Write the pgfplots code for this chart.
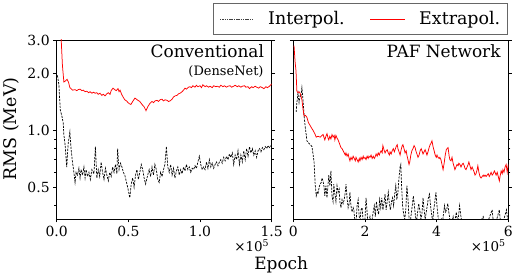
\documentclass[border=0pt]{standalone}
\usepackage{fontspec}
\setmainfont{DejaVu Serif}
\usepackage{pgfplots}
\pgfplotsset{compat=1.18}

\pgfplotstableread{
x y
0.025 3.8
0.04 2.2
0.05 1.80
0.06 1.82
0.072 1.86
0.082 1.80
0.092 1.68
0.10 1.66
0.11 1.63
0.128 1.64
0.14 1.62
0.15 1.64
0.163 1.65
0.175 1.62
0.185 1.63
0.198 1.60
0.21 1.61
0.223 1.58
0.233 1.60
0.245 1.57
0.257 1.59
0.268 1.57
0.28 1.58
0.29 1.55
0.302 1.57
0.315 1.53
0.325 1.55
0.337 1.52
0.35 1.56
0.36 1.58
0.372 1.55
0.38 1.62
0.393 1.67
0.405 1.64
0.415 1.62
0.428 1.66
0.435 1.60
0.442 1.63
0.453 1.55
0.463 1.50
0.475 1.45
0.487 1.43
0.498 1.40
0.508 1.38
0.518 1.37
0.53 1.42
0.546 1.48
0.556 1.46
0.567 1.44
0.58 1.42
0.595 1.37
0.61 1.33
0.623 1.27
0.635 1.33
0.651 1.39
0.665 1.42
0.676 1.40
0.686 1.43
0.70 1.44
0.71 1.42
0.721 1.45
0.735 1.46
0.745 1.43
0.756 1.45
0.77 1.44
0.78 1.42
0.791 1.43
0.805 1.46
0.815 1.50
0.826 1.52
0.84 1.53
0.85 1.56
0.861 1.57
0.875 1.60
0.885 1.63
0.895 1.67
0.905 1.65
0.92 1.69
0.93 1.70
0.94 1.68
0.95 1.72
0.965 1.69
0.975 1.73
0.985 1.70
1.0 1.72
1.01 1.68
1.02 1.74
1.035 1.70
1.045 1.72
1.06 1.69
1.07 1.71
1.085 1.68
1.095 1.72
1.11 1.70
1.12 1.71
1.135 1.69
1.145 1.73
1.16 1.70
1.17 1.72
1.185 1.69
1.195 1.71
1.21 1.72
1.22 1.69
1.235 1.71
1.245 1.73
1.26 1.70
1.27 1.72
1.285 1.69
1.295 1.71
1.31 1.72
1.32 1.69
1.335 1.70
1.345 1.66
1.36 1.70
1.37 1.68
1.385 1.71
1.395 1.69
1.41 1.67
1.42 1.70
1.435 1.68
1.445 1.66
1.46 1.70
1.47 1.68
1.485 1.71
1.5 1.76
}\convred

\pgfplotstableread{
x y
0.005 1.95
0.015 1.75
0.025 1.28
0.035 1.20
0.045 1.10
0.05 0.95
0.06 0.82
0.07 0.64
0.08 0.85
0.092 0.98
0.10 0.80
0.11 0.68
0.12 0.60
0.128 0.53
0.135 0.60
0.145 0.58
0.155 0.63
0.163 0.56
0.17 0.62
0.18 0.58
0.19 0.64
0.198 0.56
0.205 0.62
0.215 0.57
0.225 0.60
0.235 0.55
0.245 0.62
0.26 0.59
0.27 0.82
0.28 0.56
0.29 0.62
0.30 0.57
0.31 0.68
0.32 0.60
0.33 0.55
0.34 0.63
0.35 0.58
0.36 0.54
0.37 0.60
0.38 0.57
0.39 0.64
0.40 0.60
0.41 0.66
0.42 0.59
0.425 0.80
0.435 0.62
0.445 0.67
0.455 0.64
0.465 0.60
0.475 0.58
0.49 0.52
0.50 0.48
0.51 0.44
0.52 0.52
0.53 0.56
0.54 0.50
0.55 0.58
0.56 0.62
0.57 0.55
0.58 0.60
0.59 0.66
0.60 0.62
0.61 0.56
0.62 0.52
0.635 0.58
0.645 0.62
0.655 0.57
0.665 0.64
0.675 0.58
0.685 0.66
0.695 0.62
0.705 0.55
0.715 0.53
0.725 0.60
0.735 0.57
0.745 0.62
0.755 0.66
0.765 0.82
0.775 0.64
0.785 0.60
0.795 0.66
0.805 0.58
0.815 0.63
0.825 0.56
0.835 0.61
0.845 0.64
0.855 0.58
0.865 0.62
0.875 0.59
0.885 0.64
0.895 0.61
0.905 0.66
0.915 0.62
0.925 0.64
0.935 0.60
0.945 0.63
0.955 0.62
0.965 0.65
0.975 0.63
0.985 0.68
0.995 0.73
1.005 0.66
1.015 0.62
1.025 0.64
1.035 0.62
1.045 0.68
1.055 0.63
1.065 0.70
1.075 0.64
1.085 0.67
1.095 0.63
1.105 0.66
1.115 0.68
1.125 0.65
1.135 0.68
1.145 0.70
1.155 0.67
1.165 0.72
1.175 0.69
1.185 0.73
1.195 0.70
1.205 0.75
1.215 0.72
1.225 0.76
1.235 0.66
1.245 0.74
1.255 0.70
1.265 0.78
1.275 0.66
1.285 0.74
1.295 0.68
1.305 0.78
1.315 0.70
1.325 0.80
1.335 0.73
1.345 0.82
1.355 0.76
1.365 0.80
1.375 0.74
1.385 0.78
1.395 0.72
1.405 0.78
1.415 0.80
1.425 0.77
1.435 0.81
1.445 0.79
1.455 0.82
1.465 0.80
1.475 0.83
1.485 0.81
1.495 0.83
}\convblack

\pgfplotstableread{
x y
0.02 2.8
0.05 2.3
0.075 2.06
0.10 1.61
0.13 1.58
0.16 1.60
0.19 1.57
0.22 1.50
0.24 1.45
0.27 1.30
0.30 1.19
0.34 1.20
0.38 1.17
0.42 1.10
0.47 1.06
0.52 1.02
0.55 1.00
0.60 0.96
0.64 0.92
0.69 0.93
0.75 0.92
0.80 0.94
0.83 0.95
0.88 0.89
0.91 0.93
0.94 0.96
0.97 0.91
0.99 0.89
1.02 0.93
1.05 0.90
1.08 0.95
1.11 0.92
1.14 0.94
1.16 0.89
1.19 0.94
1.22 0.91
1.25 0.89
1.28 0.86
1.30 0.84
1.33 0.81
1.36 0.80
1.39 0.78
1.42 0.76
1.45 0.74
1.47 0.76
1.50 0.73
1.53 0.75
1.56 0.71
1.58 0.69
1.61 0.72
1.64 0.70
1.67 0.73
1.70 0.71
1.73 0.69
1.75 0.72
1.78 0.70
1.81 0.68
1.84 0.71
1.86 0.69
1.89 0.72
1.92 0.70
1.95 0.73
1.97 0.71
2.00 0.72
2.03 0.70
2.06 0.73
2.09 0.71
2.11 0.73
2.14 0.72
2.17 0.74
2.20 0.71
2.23 0.73
2.26 0.71
2.28 0.72
2.31 0.75
2.34 0.73
2.37 0.76
2.40 0.74
2.42 0.76
2.45 0.78
2.48 0.76
2.50 0.83
2.53 0.79
2.56 0.76
2.59 0.78
2.62 0.79
2.65 0.76
2.68 0.74
2.70 0.77
2.73 0.75
2.76 0.78
2.79 0.80
2.82 0.77
2.84 0.79
2.87 0.82
2.90 0.84
2.92 0.80
2.95 0.77
2.98 0.74
3.01 0.79
3.04 0.83
3.06 0.84
3.09 0.80
3.12 0.76
3.15 0.78
3.17 0.74
3.20 0.70
3.23 0.66
3.25 0.68
3.28 0.74
3.31 0.78
3.34 0.80
3.37 0.83
3.40 0.81
3.42 0.78
3.45 0.75
3.48 0.72
3.51 0.74
3.54 0.78
3.57 0.80
3.60 0.77
3.62 0.75
3.65 0.77
3.68 0.79
3.71 0.76
3.73 0.74
3.76 0.77
3.79 0.81
3.82 0.84
3.85 0.86
3.87 0.88
3.90 0.82
3.93 0.78
3.96 0.74
3.99 0.72
4.01 0.74
4.04 0.72
4.07 0.71
4.09 0.72
4.12 0.70
4.15 0.66
4.18 0.62
4.21 0.67
4.24 0.74
4.27 0.79
4.29 0.80
4.32 0.81
4.35 0.73
4.37 0.70
4.40 0.69
4.43 0.72
4.46 0.67
4.48 0.65
4.51 0.62
4.54 0.64
4.57 0.66
4.60 0.65
4.62 0.67
4.65 0.66
4.68 0.64
4.71 0.66
4.74 0.67
4.77 0.65
4.79 0.63
4.82 0.62
4.85 0.64
4.88 0.66
4.90 0.68
4.93 0.65
4.96 0.62
4.99 0.64
5.02 0.62
5.05 0.60
5.07 0.58
5.10 0.59
5.13 0.62
5.15 0.65
5.18 0.60
5.21 0.57
5.24 0.56
5.27 0.57
5.30 0.58
5.32 0.57
5.35 0.58
5.38 0.57
5.41 0.58
5.44 0.59
5.47 0.57
5.49 0.58
5.52 0.60
5.55 0.58
5.58 0.59
5.61 0.61
5.63 0.60
5.66 0.58
5.69 0.60
5.72 0.57
5.75 0.54
5.77 0.57
5.80 0.61
5.83 0.59
5.85 0.62
5.88 0.60
5.91 0.64
5.94 0.66
5.97 0.60
6.0 0.66
}\pafred

\pgfplotstableread{
x y
0.08 1.25
0.10 1.40
0.13 1.57
0.16 1.40
0.19 1.52
0.21 1.50
0.24 1.68
0.27 1.45
0.30 1.21
0.33 1.05
0.36 0.95
0.38 0.88
0.42 0.86
0.47 0.84
0.50 0.83
0.52 0.82
0.55 0.75
0.58 0.68
0.61 0.52
0.64 0.45
0.67 0.47
0.69 0.46
0.72 0.50
0.75 0.52
0.78 0.53
0.80 0.56
0.83 0.54
0.86 0.50
0.88 0.45
0.91 0.51
0.94 0.44
0.97 0.52
0.99 0.58
1.02 0.51
1.05 0.61
1.08 0.45
1.11 0.42
1.13 0.52
1.16 0.46
1.19 0.42
1.22 0.51
1.25 0.47
1.28 0.49
1.30 0.42
1.33 0.39
1.36 0.43
1.39 0.41
1.42 0.43
1.45 0.47
1.47 0.52
1.50 0.44
1.53 0.39
1.56 0.41
1.58 0.47
1.61 0.40
1.64 0.37
1.67 0.39
1.69 0.38
1.72 0.33
1.75 0.32
1.78 0.40
1.81 0.43
1.84 0.35
1.86 0.33
1.89 0.38
1.92 0.39
1.95 0.33
1.97 0.32
2.00 0.34
2.03 0.44
2.06 0.37
2.08 0.32
2.11 0.33
2.14 0.35
2.17 0.32
2.20 0.34
2.23 0.37
2.26 0.40
2.29 0.35
2.32 0.42
2.35 0.38
2.38 0.36
2.41 0.43
2.44 0.39
2.47 0.44
2.50 0.38
2.53 0.41
2.56 0.46
2.59 0.38
2.62 0.42
2.65 0.47
2.68 0.41
2.71 0.38
2.74 0.42
2.77 0.44
2.80 0.40
2.83 0.46
2.86 0.51
2.89 0.43
2.92 0.47
2.95 0.56
2.98 0.64
3.00 0.66
3.02 0.52
3.05 0.40
3.08 0.36
3.11 0.34
3.14 0.38
3.17 0.51
3.20 0.44
3.23 0.34
3.26 0.32
3.29 0.36
3.32 0.40
3.35 0.45
3.38 0.40
3.41 0.35
3.44 0.33
3.47 0.37
3.50 0.41
3.53 0.38
3.56 0.34
3.59 0.36
3.62 0.44
3.65 0.38
3.68 0.34
3.71 0.37
3.74 0.40
3.77 0.44
3.80 0.46
3.83 0.40
3.86 0.36
3.89 0.33
3.92 0.38
3.95 0.42
3.98 0.47
4.01 0.40
4.04 0.35
4.07 0.32
4.10 0.33
4.13 0.34
4.16 0.32
4.19 0.36
4.22 0.40
4.25 0.37
4.28 0.38
4.31 0.41
4.34 0.37
4.37 0.34
4.40 0.32
4.43 0.33
4.46 0.35
4.49 0.32
4.52 0.34
4.55 0.37
4.58 0.33
4.61 0.35
4.64 0.40
4.67 0.36
4.70 0.33
4.73 0.31
4.80 0.30
4.90 0.32
4.95 0.30
5.10 0.30
5.30 0.35
5.35 0.30
5.55 0.38
5.60 0.30
5.75 0.38
5.80 0.30
5.95 0.38
6.0 0.31
}\pafblack

\begin{document}
\begin{tikzpicture}
% legend frame and samples first
\path (0,0) coordinate (o);
\draw[black!60, line width=0.6pt] (156.3bp,185bp) rectangle (450.3bp,216bp);
\draw[black!75, line width=0.5pt, dash pattern=on 1.5pt off 0.8pt] (163.3bp,200bp) -- (196.3bp,200bp);
\draw[red, line width=0.75pt] (313.3bp,200bp) -- (348.3bp,200bp);

\begin{axis}[name=left, at={(0,0)}, anchor=south west,
  scale only axis, width=215bp, height=179bp,
  ymode=log, ymin=0.34, ymax=3,
  ytick={0.5,1,2,3}, yticklabels={0.5,1.0,2.0,3.0},
  minor ytick={0.4,0.6,0.7,0.8,0.9},
  tick align=outside, xtick pos=bottom, ytick pos=both,
  major tick length=3.5bp, minor tick length=2.2bp,
  every tick/.style={black, line width=0.6pt},
  axis line style={line width=0.7pt},
  tick label style={font=\fontsize{14}{16}\selectfont},
  xmin=0, xmax=1.5, xtick={0,0.5,1,1.5},
  xticklabels={0.0,0.5,1.0,1.5}]
\addplot[black, line width=0.7pt, dash pattern=on 2.2pt off 1.2pt] table {\convblack};
\addplot[red, line width=0.75pt] table {\convred};
\end{axis}

\begin{axis}[name=right, at={(236.6bp,0)}, anchor=south west,
  scale only axis, width=215bp, height=179bp,
  ymode=log, ymin=0.34, ymax=3,
  ytick={0.5,1,2,3}, yticklabels={},
  minor ytick={0.4,0.6,0.7,0.8,0.9},
  tick align=outside, xtick pos=bottom, ytick pos=both,
  major tick length=3.5bp, minor tick length=2.2bp,
  every tick/.style={black, line width=0.6pt},
  axis line style={line width=0.7pt},
  tick label style={font=\fontsize{14}{16}\selectfont},
  xmin=0, xmax=6, xtick={0,2,4,6}, xticklabels={0,2,4,6}]
\addplot[black, line width=0.7pt, dash pattern=on 2.2pt off 1.2pt] table {\pafblack};
\addplot[red, line width=0.75pt] table {\pafred};
\end{axis}

\node[anchor=north east, font=\fontsize{17}{19}\selectfont, inner sep=0pt] at ([xshift=-7.5bp,yshift=-4bp]left.north east) {Conventional};
\node[anchor=north east, font=\fontsize{13}{15}\selectfont, inner sep=0pt] at ([xshift=-8bp,yshift=-25bp]left.north east) {(DenseNet)};
\node[anchor=north east, font=\fontsize{17}{19}\selectfont, inner sep=0pt] at ([xshift=-7.5bp,yshift=-4bp]right.north east) {PAF Network};

\node[anchor=base west, font=\fontsize{17.5}{19}\selectfont, inner sep=0pt] at (211.3bp,194.5bp) {Interpol.};
\node[anchor=base west, font=\fontsize{17.5}{19}\selectfont, inner sep=0pt] at (362.3bp,194.5bp) {Extrapol.};

\node[font=\fontsize{13.5}{15}\selectfont, inner sep=0pt] at ([xshift=-20bp,yshift=-27bp]left.south east) {×10\textsuperscript{5}};
\node[font=\fontsize{13.5}{15}\selectfont, inner sep=0pt] at ([xshift=-20bp,yshift=-27bp]right.south east) {×10\textsuperscript{5}};
\node[font=\fontsize{17}{19}\selectfont, inner sep=0pt] at (224.5bp,-46bp) {Epoch};
\node[rotate=90, font=\fontsize{17.5}{19}\selectfont, inner sep=0pt] at (-45bp,90bp) {RMS (MeV)};

\pgfresetboundingbox
\path[use as bounding box] (-56.7bp,-61bp) rectangle (461.3bp,219bp);
\end{tikzpicture}
\end{document}
